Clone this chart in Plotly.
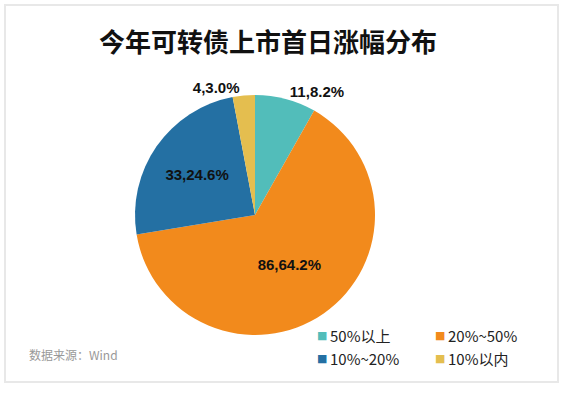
import plotly.graph_objects as go

categories = ["50%以上", "20%~50%", "10%~20%", "10%以内"]
counts = [11, 86, 33, 4]
colors = ["#52BDBA", "#F28A1C", "#2470A3", "#E4BE4F"]
title_text = "今年可转债上市首日涨幅分布"
source_text = "数据来源：Wind"

W, H = 568, 393

fig = go.Figure()
fig.add_trace(go.Pie(
    labels=categories,
    values=counts,
    marker=dict(colors=colors, line=dict(color="#ffffff", width=0)),
    sort=False,
    direction="clockwise",
    rotation=0,
    texttemplate="<b>%{value},%{percent:.1%}</b>",
    textposition=["outside", "inside", "inside", "outside"],
    insidetextorientation="horizontal",
    textfont=dict(size=15, color="#111111", family="Arial, Liberation Sans, sans-serif"),
    outsidetextfont=dict(size=15, color="#111111"),
    domain=dict(x=[(255 - 125) / W, (255 + 125) / W], y=[(H - 335) / H, (H - 95) / H]),
    showlegend=False,
    hoverinfo="label+value+percent",
))

# legend drawn as text entries in a 2x2 grid (bottom right)
legend_pos = [(322, 335), (440, 335), (322, 358), (440, 358)]
annotations = []
for (lx, ly), name, col in zip(legend_pos, categories, colors):
    annotations.append(dict(text="■", xref="paper", yref="paper", x=lx / W, y=(H - ly) / H,
                            xanchor="center", yanchor="middle", showarrow=False,
                            font=dict(size=11, color=col, family="DejaVu Sans")))
    annotations.append(dict(text=name, xref="paper", yref="paper", x=(lx + 6) / W, y=(H - ly) / H,
                            xanchor="left", yanchor="middle", showarrow=False,
                            font=dict(size=15, color="#222222", family="Noto Sans CJK SC")))

annotations.append(dict(text=source_text, xref="paper", yref="paper", x=27 / W, y=(H - 354) / H,
                        xanchor="left", yanchor="middle", showarrow=False,
                        font=dict(size=12, color="#999999", family="Noto Sans CJK SC")))

fig.update_layout(
    width=W, height=H,
    paper_bgcolor="#ffffff",
    plot_bgcolor="#ffffff",
    margin=dict(l=0, r=0, t=0, b=0, autoexpand=False),
    title=dict(text="<b>" + title_text + "</b>", x=268 / W, xanchor="center", y=(H - 43) / H, yanchor="middle",
               font=dict(size=26, color="#111111", family="Noto Sans CJK SC")),
    showlegend=False,
    font=dict(family="Noto Sans CJK SC"),
    shapes=[dict(type="rect", xref="paper", yref="paper", x0=5 / W, x1=558 / W, y0=(H - 382) / H, y1=(H - 5) / H,
                 line=dict(color="#e8e8e8", width=2), fillcolor="rgba(0,0,0,0)", layer="below")],
    annotations=annotations,
)

fig.write_html("out.html", config={"displayModeBar": False},
               post_script="document.body.style.margin='0';document.body.style.overflow='hidden';")
